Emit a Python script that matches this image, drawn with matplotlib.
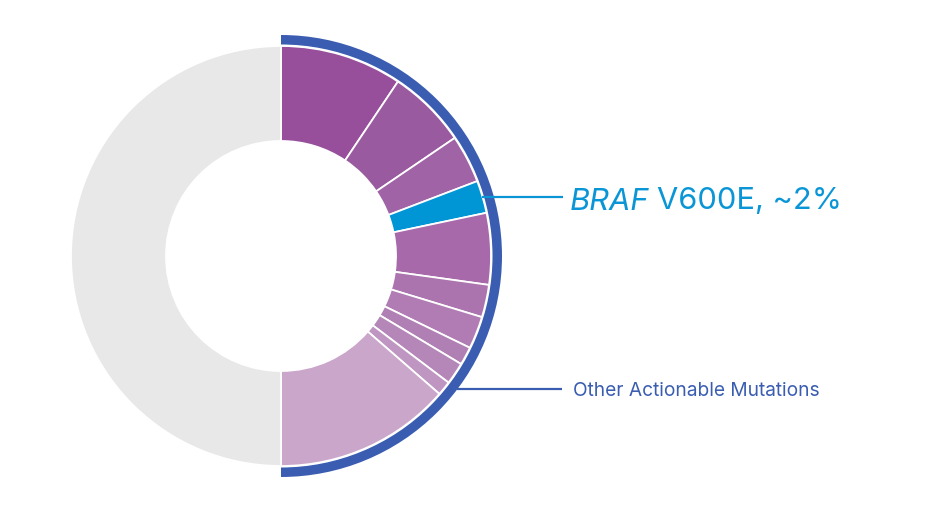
import matplotlib
matplotlib.use("Agg")
import matplotlib.pyplot as plt
import numpy as np

plt.rcParams['font.family'] = ['Inter', 'DejaVu Sans']

# shares of the ring, in percent, clockwise from 12 o'clock
segNames = ['seg1', 'seg2', 'seg3', 'BRAF V600E', 'seg5', 'seg6', 'seg7',
            'seg8', 'seg9', 'seg10', 'seg11', 'rest']
segValues = [9.4, 6.1, 3.7, 2.5, 5.5, 2.5, 2.5, 1.4, 1.7, 1.1, 13.6, 50.0]
segColors = ['#974f9b', '#9a5a9f', '#a063a6', '#0096d6', '#a769aa', '#ab74ae',
             '#b07cb3', '#b080b5', '#b587b9', '#bf96c2', '#cba6cb', '#e8e8e8']

actionableTotal = sum(segValues[:-1])
otherTotal = segValues[-1]

arcBlue = '#3a5db1'
brafBlue = '#0a96d6'

fig = plt.figure(figsize=(9.27, 5.12), dpi=100)
ax = fig.add_axes([0, 0, 1, 1])
ax.set_xlim(0, 927)
ax.set_ylim(0, 512)
ax.set_aspect('equal')
ax.axis('off')

cx, cy = 281, 256
rOuter, rInner = 210, 115

# donut
ax.pie(segValues, colors=segColors, radius=rOuter, center=(cx, cy),
       startangle=90, counterclock=False,
       wedgeprops=dict(width=rOuter - rInner, edgecolor='white', linewidth=1.3))

# outer arc round the actionable part
ax.pie([actionableTotal, otherTotal], colors=[arcBlue, 'none'], radius=221,
       center=(cx, cy), startangle=90, counterclock=False,
       wedgeprops=dict(width=9.5, linewidth=0))

ax.set_xlim(0, 927)
ax.set_ylim(0, 512)

# leader for BRAF: mid angle of its wedge
brafStart = sum(segValues[:3])
brafMid = brafStart + segValues[3] / 2
ang = np.deg2rad(90 - brafMid * 3.6)
y0 = cy + rOuter * np.sin(ang)
x0 = cx + rOuter * np.cos(ang)
ax.plot([x0, 563], [y0, y0], color=brafBlue, lw=1.6, solid_capstyle='butt')

t1 = ax.text(570, 302.5, 'BRAF', fontsize=22.2, style='italic',
             color=brafBlue, va='baseline', ha='left')
fig.canvas.draw()
bb = t1.get_window_extent(renderer=fig.canvas.get_renderer())
ax.text(bb.x1 + 8, 302.5, 'V600E, ~2%', fontsize=22.2, color=brafBlue,
        va='baseline', ha='left')

# leader for the other actionable mutations
yO = 512 - 389
xO = cx + np.sqrt(221 ** 2 - (cy - yO) ** 2)
ax.plot([xO, 562], [yO, yO], color=arcBlue, lw=1.6, solid_capstyle='butt')
ax.text(573, 116.3, 'Other Actionable Mutations', fontsize=13.8,
        color=arcBlue, va='baseline', ha='left')

fig.savefig('out.png', dpi=100)
